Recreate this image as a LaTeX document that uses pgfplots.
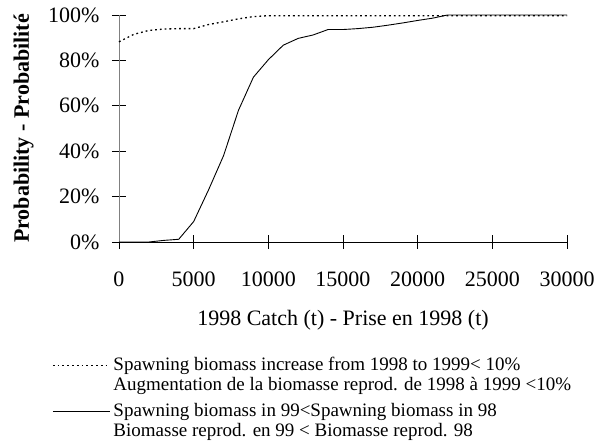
\documentclass[border=0pt]{standalone}
\usepackage{fontspec}
\setmainfont{Liberation Serif}
\usepackage{pgfplots}
\pgfplotsset{compat=1.18}
\begin{document}
\fontsize{22}{26}\selectfont
\begin{tikzpicture}[x=1pt,y=1pt]
\useasboundingbox (0,0) rectangle (606,446);
\begin{axis}[
  at={(119pt,204pt)}, anchor=south west,
  scale only axis, width=448pt, height=227pt,
  xmin=0, xmax=30000, ymin=0, ymax=100,
  axis x line*=bottom, axis y line*=left,
  x axis line style={black, line width=0.8pt, -},
  y axis line style={gray, line width=0.8pt, -},
  xtick={0,5000,10000,15000,20000,25000,30000},
  ytick={0,20,40,60,80,100},
  tick align=center, major tick length=14pt,
  tick style={black, line width=0.8pt},
  scaled x ticks=false,
  /pgf/number format/.cd, 1000 sep={}, assume math mode=true, /pgfplots/.cd,
  yticklabel={\pgfmathprintnumber{\tick}\%},
  ticklabel style={font=\fontsize{22}{26}\selectfont},
  yticklabel style={anchor=east, xshift=-5pt},
  xticklabel style={anchor=north, yshift=-15pt},
  xlabel={1998 Catch (t) - Prise en 1998 (t)},
  ylabel={\bfseries Probability - Probabilité},
  xlabel style={at={(axis description cs:0.5,0)}, anchor=center, yshift=-78pt, font=\fontsize{22}{26}\selectfont},
  ylabel style={at={(axis description cs:-0.213,0.5)}, anchor=center, font=\fontsize{22}{26}\selectfont},
  legend style={at={(axis description cs:-0.1496,-0.500)}, anchor=north west, draw=none, fill=none,
    inner sep=0pt, row sep=7pt, column sep=2pt,
    font=\fontsize{19}{20.5}\selectfont,
    cells={anchor=west, align=left}, nodes={inner sep=1pt}},
  legend image code/.code={\draw[#1] (0pt,10pt) -- (57pt,10pt);},
  clip=false,
]
\addplot[black, line width=1.3pt, dash pattern=on 1.8pt off 3pt] coordinates {
(0,88.2) (1000,91.5) (2000,93.2) (3000,93.8) (4000,94) (5000,94) (6000,95.8) (7000,97) (8000,98.3) (9000,99.3) (10000,99.7) (11000,99.7) (12000,99.7) (13000,99.7) (14000,99.7) (15000,99.7) (16000,99.7) (17000,99.7) (18000,99.7) (19000,99.7) (20000,99.7) (21000,99.7) (22000,99.7) (23000,99.7) (24000,99.7) (25000,99.7) (26000,99.7) (27000,99.7) (28000,99.7) (29000,99.7) (30000,99.7)
};
\addlegendentry{Spawning biomass increase from 1998 to 1999< 10\%\\Augmentation de la biomasse reprod. de 1998 à 1999 <10\%}
\addplot[black, line width=0.9pt] coordinates {
(0,0) (1000,0) (2000,0) (3000,0.7) (4000,1.2) (5000,9) (6000,23) (7000,38) (8000,58) (9000,72.6) (10000,80.3) (11000,86.7) (12000,89.7) (13000,91.2) (14000,93.6) (15000,93.6) (16000,94) (17000,94.6) (18000,95.5) (19000,96.5) (20000,97.6) (21000,98.6) (22000,100) (23000,100) (24000,100) (25000,100) (26000,100) (27000,100) (28000,100) (29000,100) (30000,100)
};
\addlegendentry{Spawning biomass in 99<Spawning biomass in 98\\Biomasse reprod. en 99 < Biomasse reprod. 98}
\end{axis}
\end{tikzpicture}
\end{document}
